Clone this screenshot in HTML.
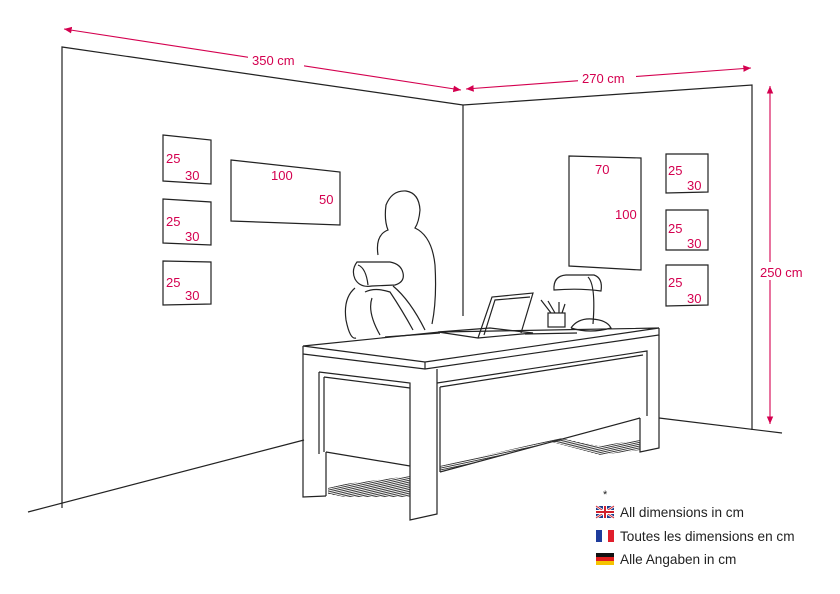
<!DOCTYPE html>
<html><head><style>
body{margin:0;background:#fff;}
svg{display:block;font-family:"Liberation Sans",Arial,sans-serif;}
.r{fill:#d4004f;font-size:13px;}
.l{fill:none;stroke:#222;stroke-width:1.2;}
.d{fill:none;stroke:#d4004f;stroke-width:1.1;}
.t{fill:#222;font-size:13.6px;}
</style></head><body>
<svg width="840" height="594" viewBox="0 0 840 594">
<defs>
<marker id="a" markerWidth="8" markerHeight="8" refX="7" refY="4" orient="auto-start-reverse"><path d="M0,1 L7,4 L0,7z" fill="#d4004f"/></marker>
<pattern id="h" width="4" height="1.8" patternUnits="userSpaceOnUse" patternTransform="rotate(-12)"><rect width="4" height="0.9" fill="#333"/></pattern>
</defs>
<polyline class="l" points="62,508 62,47 463,105 752,85 752,430"/>
<line class="l" x1="463" y1="105" x2="463" y2="316"/>
<line class="l" x1="28" y1="512" x2="304" y2="440"/>
<line class="l" x1="659" y1="418" x2="782" y2="433"/>
<line class="d" x1="64" y1="29" x2="461" y2="90" marker-start="url(#a)" marker-end="url(#a)"/>
<rect x="248" y="50" width="56" height="18" fill="#fff"/>
<text class="r" x="252" y="65">350 cm</text>
<line class="d" x1="466" y1="89" x2="751" y2="68" marker-start="url(#a)" marker-end="url(#a)"/>
<rect x="578" y="68" width="58" height="18" fill="#fff"/>
<text class="r" x="582" y="83">270 cm</text>
<line class="d" x1="770" y1="86" x2="770" y2="424" marker-start="url(#a)" marker-end="url(#a)"/>
<rect x="756" y="262" width="56" height="18" fill="#fff"/>
<text class="r" x="760" y="277">250 cm</text>
<polygon class="l" points="163,135 211,140 211,184 163,181"/>
<text class="r" x="166" y="163">25</text><text class="r" x="185" y="180">30</text>
<polygon class="l" points="163,199 211,202 211,245 163,243"/>
<text class="r" x="166" y="226">25</text><text class="r" x="185" y="241">30</text>
<polygon class="l" points="163,261 211,262 211,304 163,305"/>
<text class="r" x="166" y="287">25</text><text class="r" x="185" y="300">30</text>
<polygon class="l" points="231,160 340,172 340,225 231,221"/>
<text class="r" x="271" y="180">100</text><text class="r" x="319" y="204">50</text>
<polygon class="l" points="569,156 641,158 641,270 569,266"/>
<text class="r" x="595" y="174">70</text><text class="r" x="615" y="219">100</text>
<polygon class="l" points="666,154 708,154 708,192 666,193"/>
<text class="r" x="668" y="175">25</text><text class="r" x="687" y="190">30</text>
<polygon class="l" points="666,210 708,210 708,250 666,250"/>
<text class="r" x="668" y="233">25</text><text class="r" x="687" y="248">30</text>
<polygon class="l" points="666,265 708,265 708,305 666,306"/>
<text class="r" x="668" y="287">25</text><text class="r" x="687" y="303">30</text>
<path class="l" d="M378,255 Q375,235 388,230 Q384,220 386,205 Q392,190 406,191 Q419,193 420,210 Q419,222 415,228 Q432,236 435,265 Q437,300 432,324"/>
<path class="l" d="M357,262 Q351,270 355,279 Q360,288 372,286 L395,285 Q405,282 403,273 Q401,264 390,262 Z M358,265 Q366,268 368,285"/>
<path class="l" d="M355,288 Q343,298 346,320 Q350,340 356,338 M365,292 Q375,287 390,292 Q402,310 413,330 M372,298 Q367,312 380,335 M393,286 Q410,300 425,330"/>
<path class="l" d="M438,332 L478,338 L533,333 L490,328 Z"/>
<path class="l" d="M478,338 L492,297 L533,293 L521,333 M484,335 L495,300 L530,297"/>
<path class="l" d="M385,337 L440,333 M525,334 L577,333"/>
<rect class="l" x="548" y="313" width="17" height="14"/>
<path class="l" d="M551,313 L541,300 M555,313 L548,301 M559,313 L559,302 M562,313 L565,304"/>
<path class="l" d="M554,290 Q553,276 566,275 L594,275 Q603,278 601,291 Q580,288 554,290 Z M588,277 Q596,285 593,324 M571,328 Q578,318 592,319 Q607,320 611,328 Q590,334 571,328"/>
<polygon class="l" points="303,346 440,332 659,328 425,362" fill="#fff"/>
<polyline class="l" points="303,354 425,369 659,335 659,328"/>
<line class="l" x1="425" y1="362" x2="425" y2="369"/>
<polyline class="l" points="303,346 303,497 326,496"/>
<line class="l" x1="319" y1="372" x2="319" y2="454"/>
<polyline class="l" points="319,372 410,383 410,520 437,514 437,369"/>
<polyline class="l" points="324,377 410,388"/>
<line class="l" x1="324" y1="377" x2="324" y2="452"/>
<line class="l" x1="326" y1="452" x2="410" y2="466"/>
<line class="l" x1="326" y1="452" x2="326" y2="496"/>
<polyline class="l" points="437,383 647,351 647,416"/>
<polyline class="l" points="440,387 643,355"/>
<line class="l" x1="440" y1="387" x2="440" y2="472"/>
<line class="l" x1="440" y1="472" x2="640" y2="418"/>
<polyline class="l" points="640,418 640,452 659,448 659,335"/>
<path d="M328,494 L345,497 L410,497 L410,476 L345,484 L328,488 Z" fill="url(#h)"/>
<path d="M440,472 L552,442 L600,455 L640,450 L640,440 L598,446 L560,438 L440,466 Z" fill="url(#h)"/>
<text x="603" y="498" font-size="11" fill="#222">*</text>
<g transform="translate(596,506)">
<rect width="18" height="12" fill="#1e3c8c"/>
<path d="M0,0 L18,12 M18,0 L0,12" stroke="#fff" stroke-width="2.5"/>
<path d="M0,0 L18,12 M18,0 L0,12" stroke="#d0202c" stroke-width="1"/>
<path d="M9,0 V12 M0,6 H18" stroke="#fff" stroke-width="4"/>
<path d="M9,0 V12 M0,6 H18" stroke="#d0202c" stroke-width="2"/>
</g>
<text class="t" x="620" y="517">All dimensions in cm</text>
<g transform="translate(596,530)"><rect width="6" height="12" fill="#1e3c9c"/><rect x="6" width="6" height="12" fill="#fff"/><rect x="12" width="6" height="12" fill="#e01e2c"/></g>
<text class="t" x="620" y="541">Toutes les dimensions en cm</text>
<g transform="translate(596,553)"><rect width="18" height="4" fill="#111"/><rect y="4" width="18" height="4" fill="#e01e1e"/><rect y="8" width="18" height="4" fill="#f5c400"/></g>
<text class="t" x="620" y="564">Alle Angaben in cm</text>
</svg>
</body></html>
